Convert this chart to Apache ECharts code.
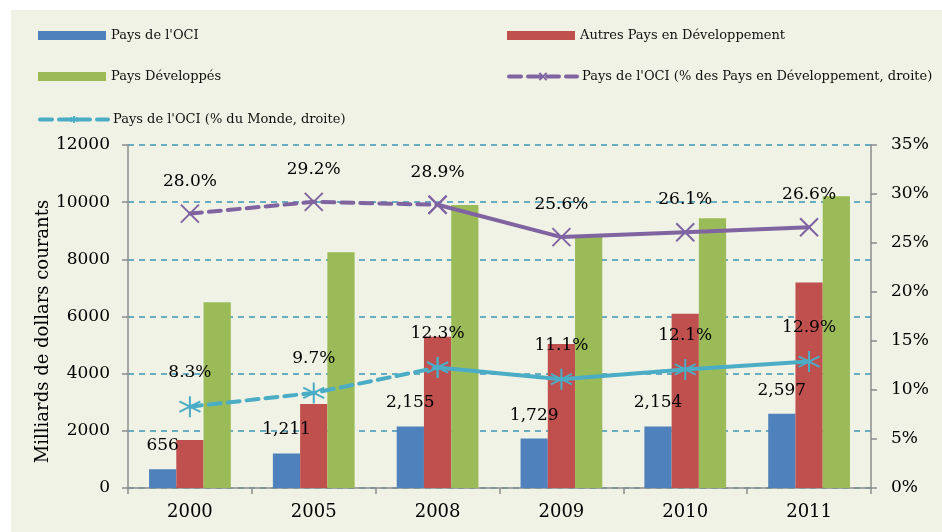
<!DOCTYPE html>
<html>
<head>
<meta charset="utf-8">
<title>ECharts</title>
<style>
html,body { height:100%; width:100%; margin:0; padding:0; background:#fff; }
</style>
<script src="https://cdn.jsdelivr.net/npm/echarts@6/dist/echarts.min.js"></script>
</head>
<body>
<div id="chart" style="width:942px;height:532px;"></div>
<script type="text/javascript">
// données
var categories = ['2000', '2005', '2008', '2009', '2010', '2011'];
var paysOCI = [656, 1211, 2155, 1729, 2154, 2597];
var autresPays = [1680, 2940, 5290, 5040, 6100, 7190];
var paysDev = [6500, 8250, 9900, 8850, 9440, 10210];
var partPD = [28.0, 29.2, 28.9, 25.6, 26.1, 26.6];
var partMonde = [8.3, 9.7, 12.3, 11.1, 12.1, 12.9];
var leftAxis = { min: 0, max: 12000, interval: 2000 };
var rightAxis = { min: 0, max: 35, interval: 5 };
var splitIndex = 2; // pointillé jusqu'à 2008, trait plein après

var FONT = 'DejaVu Serif';
var nomPD = "Pays de l'OCI (% des Pays en Développement, droite)";
var nomMonde = "Pays de l'OCI (% du Monde, droite)";

var asterisk = 'path://M5 0L5 10M0.7 2.5L9.3 7.5M0.7 7.5L9.3 2.5';
var croix = 'path://M0 0L10 10M10 0L0 10';

function partie(arr, from, to) {
	return arr.map(function (v, i) { return (i >= from && i <= to) ? v : '-'; });
}

function pctLabel(skip) {
	return {
		show: true, position: 'top', distance: 14,
		fontFamily: FONT, fontSize: 17, color: '#000',
		formatter: function (p) { return p.dataIndex === skip ? '' : p.value.toFixed(1) + '%'; }
	};
}

function ligne(name, data, color, symbol, size, dashed, skip) {
	return {
		name: name, type: 'line', yAxisIndex: 1, data: data,
		symbol: symbol, symbolSize: size, showAllSymbol: true,
		itemStyle: { color: color, borderColor: color, borderWidth: 2 },
		lineStyle: { color: color, width: 4, type: dashed ? [12, 7] : 'solid', cap: 'round' },
		label: pctLabel(skip),
		z: 5
	};
}

function legende(left, top, name, icon) {
	var item = { name: name };
	if (icon) item.icon = icon;
	else item.lineStyle = { width: 4 };
	return {
		left: left, top: top, orient: 'horizontal',
		itemWidth: 68, itemHeight: 9, itemGap: 8,
		textStyle: { fontFamily: FONT, fontSize: 13, color: '#111' },
		data: [item]
	};
}

var chart = echarts.init(document.getElementById('chart'));
var option = {
	backgroundColor: '#fff',
	animation: false,
	graphic: [{
		type: 'rect', z: -100, silent: true,
		shape: { x: 11, y: 10, width: 931, height: 522 },
		style: { fill: '#eff2e4' }
	}],
	legend: [
		legende(33, 24, "Pays de l'OCI", 'rect'),
		legende(502, 24, 'Autres Pays en Développement', 'rect'),
		legende(33, 65, 'Pays Développés', 'rect'),
		legende(502, 65, nomPD),
		legende(33, 108, nomMonde)
	],
	grid: { left: 128, right: 71, top: 145, bottom: 44 },
	xAxis: {
		type: 'category', data: categories,
		axisLine: { lineStyle: { color: '#8c8c8c', width: 1.5 } },
		axisTick: { show: true, length: 6, lineStyle: { color: '#8c8c8c', width: 1.5 } },
		axisLabel: { fontFamily: FONT, fontSize: 18, color: '#000', margin: 15 }
	},
	yAxis: [{
		type: 'value', min: leftAxis.min, max: leftAxis.max, interval: leftAxis.interval,
		name: 'Milliards de dollars courants', nameLocation: 'middle', nameGap: 76,
		nameMoveOverlap: false,
		nameTextStyle: { fontFamily: FONT, fontSize: 18, color: '#000', padding: [0, 30, 0, 0] },
		axisLine: { show: true, lineStyle: { color: '#8c8c8c', width: 1.5 } },
		axisTick: { show: true, length: 6, lineStyle: { color: '#8c8c8c', width: 1.5 } },
		axisLabel: {
			fontFamily: FONT, fontSize: 17, color: '#000', margin: 18,
			formatter: function (v) { return String(v); }
		},
		splitLine: { show: true, lineStyle: { color: '#3d97b5', width: 1.5, type: [6, 5] } }
	}, {
		type: 'value', min: rightAxis.min, max: rightAxis.max, interval: rightAxis.interval,
		axisLine: { show: true, lineStyle: { color: '#8c8c8c', width: 1.5 } },
		axisTick: { show: true, length: 6, lineStyle: { color: '#8c8c8c', width: 1.5 } },
		axisLabel: { fontFamily: FONT, fontSize: 17, color: '#000', margin: 20, formatter: '{value}%' },
		splitLine: { show: false }
	}],
	series: [{
		name: "Pays de l'OCI", type: 'bar', data: paysOCI, barGap: '0%', barCategoryGap: '34%',
		itemStyle: { color: '#4f81bd' },
		label: {
			show: true, position: 'top', distance: 15, fontFamily: FONT, fontSize: 17, color: '#000',
			formatter: function (p) { return p.value.toLocaleString('en-US'); }
		}
	}, {
		name: 'Autres Pays en Développement', type: 'bar', data: autresPays,
		itemStyle: { color: '#c0504d' }
	}, {
		name: 'Pays Développés', type: 'bar', data: paysDev,
		itemStyle: { color: '#9bbb59' }
	},
	ligne(nomPD, partie(partPD, 0, splitIndex), '#8064a2', croix, 18, true, -1),
	ligne(nomPD, partie(partPD, splitIndex, partPD.length - 1), '#8064a2', croix, 18, false, splitIndex),
	ligne(nomMonde, partie(partMonde, 0, splitIndex), '#4bacc6', asterisk, 21, true, -1),
	ligne(nomMonde, partie(partMonde, splitIndex, partMonde.length - 1), '#4bacc6', asterisk, 21, false, splitIndex)
	]
};
chart.setOption(option);
</script>
</body>
</html>
